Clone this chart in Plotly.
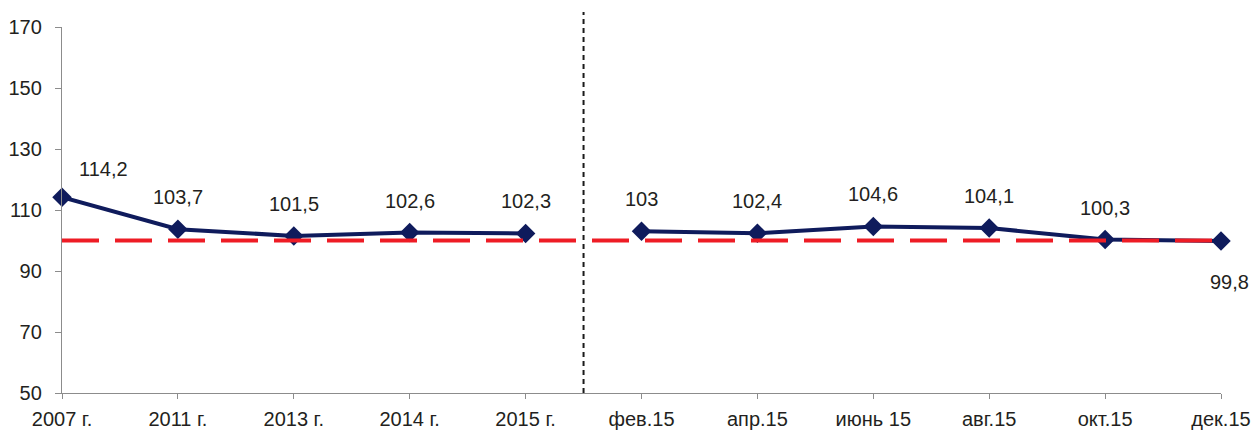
import plotly.graph_objects as go

categories = ["2007 г.", "2011 г.", "2013 г.", "2014 г.", "2015 г.",
              "фев.15", "апр.15", "июнь 15", "авг.15", "окт.15", "дек.15"]
values_years = [114.2, 103.7, 101.5, 102.6, 102.3]
values_months = [103, 102.4, 104.6, 104.1, 100.3, 99.8]
baseline = 100
y_ticks = [50, 70, 90, 110, 130, 150, 170]

x_years = list(range(len(values_years)))
x_months = list(range(len(values_years), len(categories)))

navy = "#0F1B5C"
red = "#EE1C25"
font = "Liberation Sans, Arial, sans-serif"
txtcol = "#231F20"
fs = 20

fig = go.Figure()
for xs, ys in [(x_years, values_years), (x_months, values_months)]:
    fig.add_trace(go.Scatter(
        x=xs, y=ys, mode="lines+markers",
        line=dict(color=navy, width=4),
        marker=dict(symbol="diamond", size=15, color=navy),
        cliponaxis=False, showlegend=False, hoverinfo="skip"))

fig.add_trace(go.Scatter(
    x=[0, len(categories) - 1], y=[baseline, baseline], mode="lines",
    line=dict(color=red, width=4, dash="37px,16px"),
    cliponaxis=False, showlegend=False, hoverinfo="skip"))

def fmt(v):
    return ("%g" % v).replace(".", ",")

all_x = x_years + x_months
all_y = values_years + values_months
for i, (xv, yv) in enumerate(zip(all_x, all_y)):
    xs, ys = 0, 32
    if i == 0:
        xs, ys = 41, 28
    if i == len(all_y) - 1:
        xs, ys = 8, -41
    fig.add_annotation(x=xv, y=yv, text=fmt(yv), showarrow=False,
                       xshift=xs, yshift=ys,
                       font=dict(family=font, size=fs, color=txtcol))

fig.add_shape(type="line", xref="x", yref="paper",
              x0=4.5, x1=4.5, y0=0, y1=1.041,
              line=dict(color="#1a1a1a", width=2, dash="5px,4px"))

fig.update_layout(
    width=1253, height=430,
    margin=dict(l=62, r=32, t=27, b=37, autoexpand=False),
    plot_bgcolor="white", paper_bgcolor="white",
    font=dict(family=font, size=fs, color=txtcol),
)
fig.update_xaxes(
    range=[0, len(categories) - 1], automargin=False,
    tickmode="array", tickvals=list(range(len(categories))), ticktext=categories,
    showgrid=False, zeroline=False, showline=True, linecolor="#8C8C8C", linewidth=1.3,
    ticks="outside", ticklen=5, tickcolor="#8C8C8C", ticklabelstandoff=3,
    tickfont=dict(family=font, size=fs, color=txtcol),
)
fig.update_yaxes(
    range=[50, 170], tickmode="array", tickvals=y_ticks, automargin=False,
    showgrid=False, zeroline=False, showline=True, linecolor="#8C8C8C", linewidth=1.3,
    ticks="outside", ticklen=6, tickcolor="#8C8C8C", ticklabelstandoff=9,
    tickfont=dict(family=font, size=fs, color=txtcol),
)

fig.write_html("out.html", config={"displayModeBar": False},
               post_script="document.body.style.margin='0';document.body.style.overflow='hidden';")
